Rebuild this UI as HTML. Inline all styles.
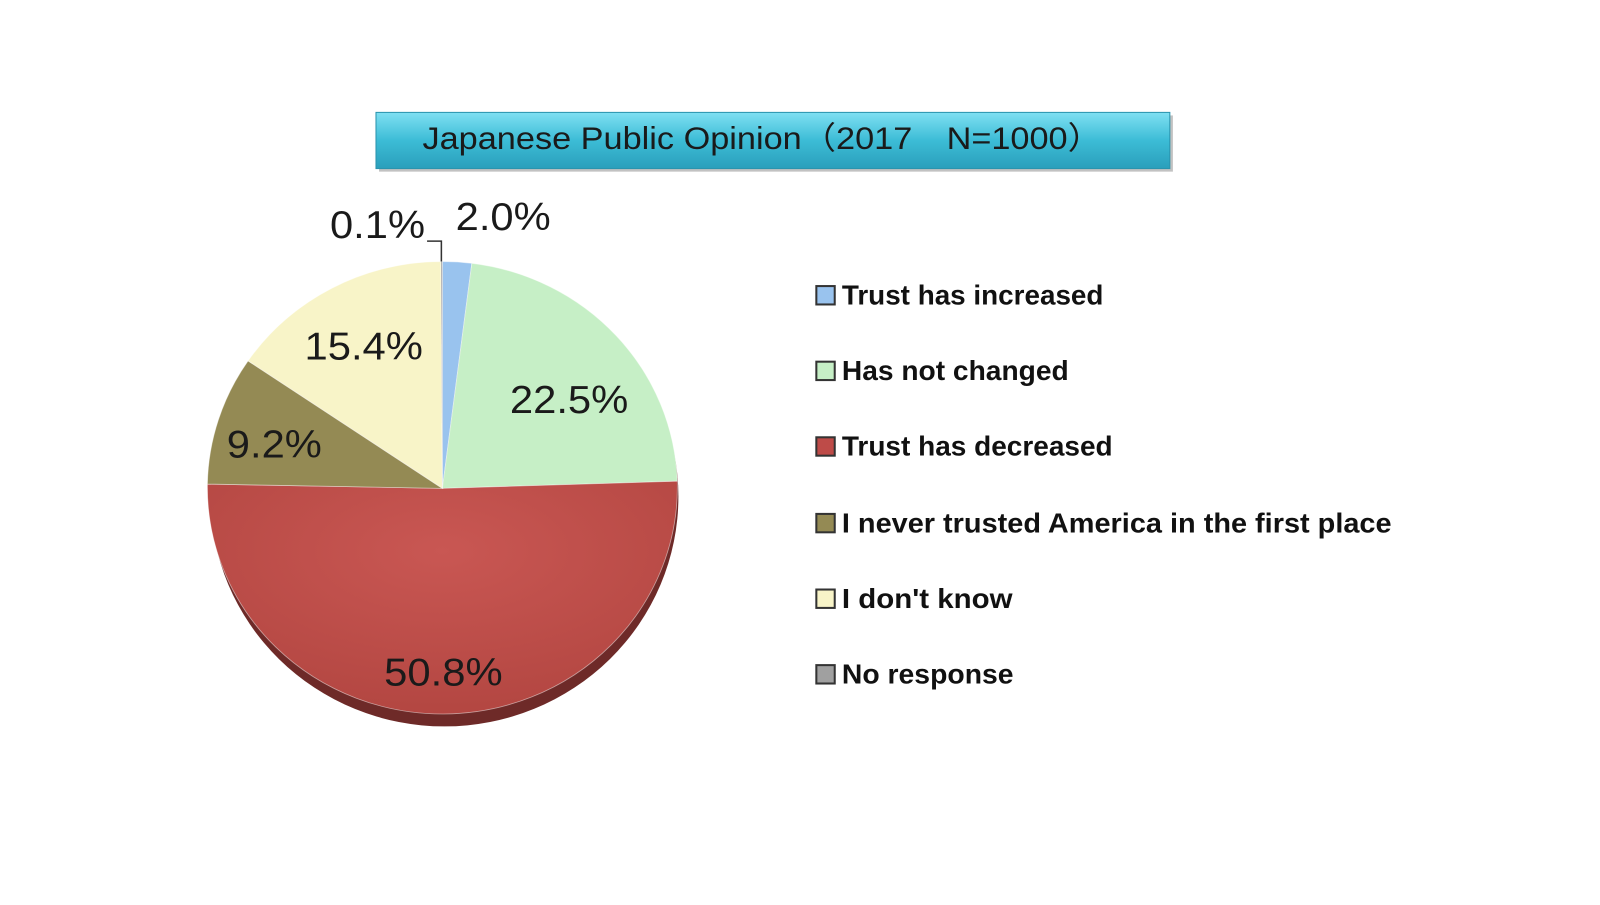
<!DOCTYPE html>
<html><head><meta charset="utf-8"><style>
body{margin:0;width:1600px;height:900px;background:#fff;overflow:hidden;font-family:"Liberation Sans",sans-serif}
</style></head><body>
<svg width="1600" height="900" xmlns="http://www.w3.org/2000/svg">
<defs>
<linearGradient id="tg" x1="0" y1="0" x2="0" y2="1">
<stop offset="0" stop-color="#7fe0f2"/><stop offset="0.5" stop-color="#3cbcd6"/><stop offset="1" stop-color="#2a9fbb"/></linearGradient>
<radialGradient id="rg" cx="0.5" cy="0.3" r="0.8"><stop offset="0" stop-color="#c95753"/><stop offset="1" stop-color="#b0443f"/></radialGradient>
</defs>
<g transform="scale(1.0217)">
<rect x="371" y="113" width="777" height="55" fill="#999" opacity="0.6"/>
<rect x="368" y="110" width="777" height="55" fill="url(#tg)" stroke="#2a93ad"/>
<text x="746" y="146" text-anchor="middle" font-size="31" fill="#1a1a1a" font-family="Liberation Sans Narrow, Liberation Sans, sans-serif" textLength="665" lengthAdjust="spacingAndGlyphs">Japanese Public Opinion（2017　N=1000）</text>
<ellipse cx="435" cy="486" rx="229" ry="225" fill="#6e2a28"/>
<g stroke="#fff" stroke-width="0.8" stroke-opacity="0.5">
<path d="M433,478 L433,256 A230,222 0 0 1 461.8,257.7 Z" fill="#99c3ee"/>
<path d="M433,478 L461.8,257.7 A230,222 0 0 1 662.9,471 Z" fill="#c6efc6"/>
<path d="M433,478 L662.9,471 A230,222 0 1 1 203,473.8 Z" fill="url(#rg)"/>
<path d="M433,478 L203,473.8 A230,222 0 0 1 242.8,353.2 Z" fill="#948a54"/>
<path d="M433,478 L242.8,353.2 A230,222 0 0 1 431.6,256 Z" fill="#f8f4c8"/>
<path d="M433,478 L431.6,256 A230,222 0 0 1 433,256 Z" fill="#a0a0a0"/>
</g>
<polyline points="418,236 432,236 432,256" fill="none" stroke="#333" stroke-width="1.5"/>
<g font-size="38" fill="#1a1a1a">
<text x="323" y="233" textLength="93" lengthAdjust="spacingAndGlyphs">0.1%</text>
<text x="446" y="225" textLength="93" lengthAdjust="spacingAndGlyphs">2.0%</text>
<text x="298" y="352" textLength="116" lengthAdjust="spacingAndGlyphs">15.4%</text>
<text x="499" y="404" textLength="116" lengthAdjust="spacingAndGlyphs">22.5%</text>
<text x="222" y="448" textLength="93" lengthAdjust="spacingAndGlyphs">9.2%</text>
<text x="376" y="671" textLength="116" lengthAdjust="spacingAndGlyphs">50.8%</text>
</g>
<g font-size="27" font-weight="bold" fill="#111">
<rect x="799" y="280" width="18" height="18" fill="#99c3ee" stroke="#333" stroke-width="2"/><text x="824" y="298" textLength="256" lengthAdjust="spacingAndGlyphs">Trust has increased</text>
<rect x="799" y="354" width="18" height="18" fill="#c6efc6" stroke="#333" stroke-width="2"/><text x="824" y="372" textLength="222" lengthAdjust="spacingAndGlyphs">Has not changed</text>
<rect x="799" y="428" width="18" height="18" fill="#be4b48" stroke="#333" stroke-width="2"/><text x="824" y="446" textLength="265" lengthAdjust="spacingAndGlyphs">Trust has decreased</text>
<rect x="799" y="503" width="18" height="18" fill="#948a54" stroke="#333" stroke-width="2"/><text x="824" y="521" textLength="538" lengthAdjust="spacingAndGlyphs">I never trusted America in the first place</text>
<rect x="799" y="577" width="18" height="18" fill="#f8f4c8" stroke="#333" stroke-width="2"/><text x="824" y="595" textLength="167" lengthAdjust="spacingAndGlyphs">I don't know</text>
<rect x="799" y="651" width="18" height="18" fill="#a0a0a0" stroke="#333" stroke-width="2"/><text x="824" y="669" textLength="168" lengthAdjust="spacingAndGlyphs">No response</text>
</g>
</g>
</svg>
</body></html>
